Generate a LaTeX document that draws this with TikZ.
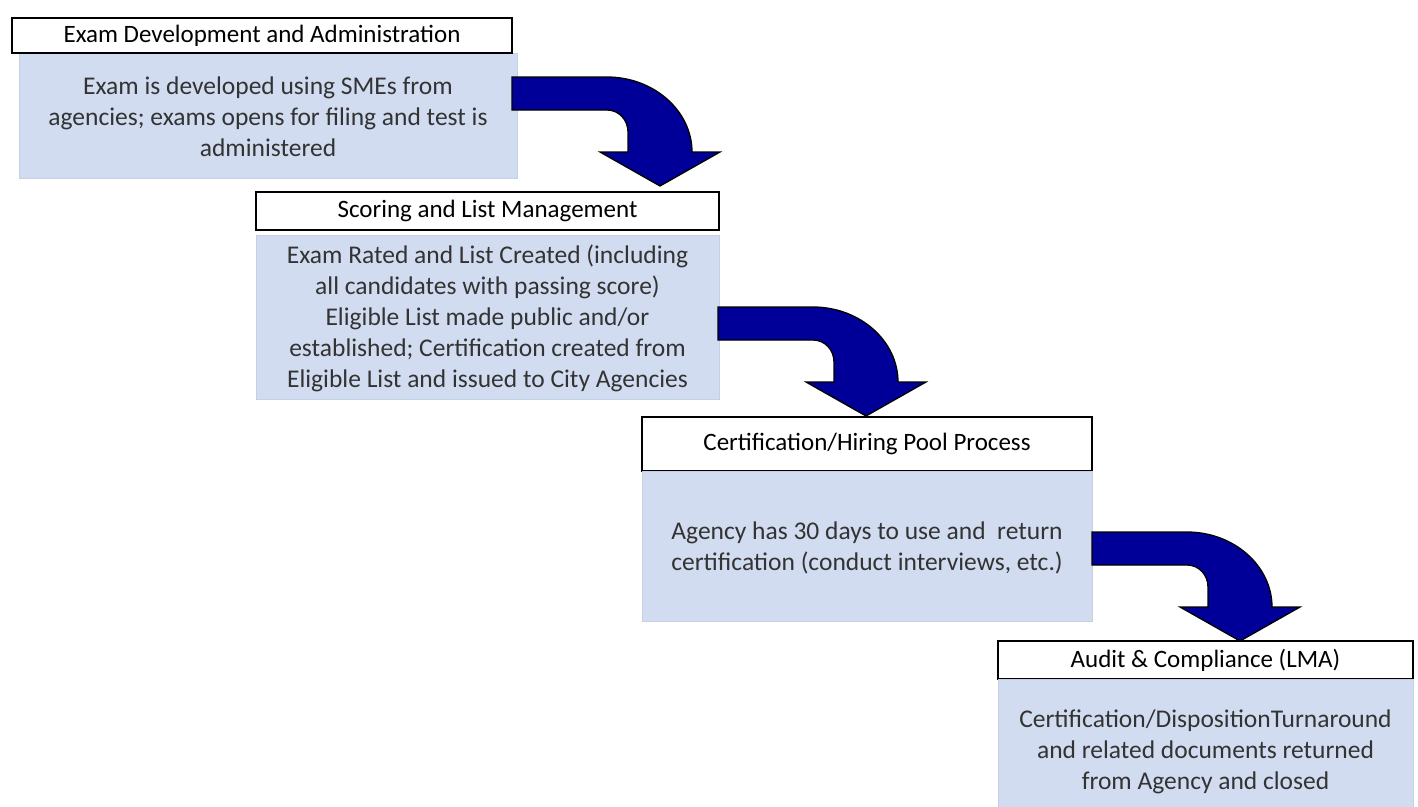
\documentclass[tikz,border=0pt]{standalone}
\usepackage{fontspec}
\setmainfont{Carlito}
\definecolor{bodyblue}{RGB}{209,220,240}
\definecolor{bodyedge}{RGB}{196,208,230}
\definecolor{navy}{RGB}{0,0,153}
\tikzset{
  titlebox/.style={draw=black, line width=1.4pt, fill=white, inner sep=0pt, font=\fontsize{25}{29}\selectfont},
  bodybox/.style={draw=bodyedge, line width=0.8pt, fill=bodyblue, inner sep=0pt},
  bodytext/.style={align=center, inner sep=0pt, text=black!80, font=\fontsize{25.5}{31}\selectfont},
  bentarrow/.style={draw=black, line width=1.3pt, fill=navy, line join=miter},
}
\newcommand\mybentarrow[1]{%
  \begin{scope}[shift={(#1)}]
    \path[bentarrow] (0,0) -- (95,0) .. controls (142,0) and (180,34) .. (180,75)
      -- (208,75) -- (148,109) -- (88,75) -- (116,75) -- (116,55)
      .. controls (116,43) and (107,33) .. (95,33) -- (0,33) -- cycle;
  \end{scope}}
\begin{document}
\begin{tikzpicture}[x=1pt,y=-1pt]
\useasboundingbox (0,0) rectangle (1418,806);
% step 1
\node[bodybox, minimum width=498pt, minimum height=125pt] (b1) at (268,115.5) {};
\node[titlebox, minimum width=500pt, minimum height=35pt] (t1) at (262,35.5) {Exam Development and Administration};
\node[bodytext] (b1t) at (268,117) {Exam is developed using SMEs from\\agencies; exams opens for filing and test is\\administered};
% step 2
\node[titlebox, minimum width=463pt, minimum height=38pt] (t2) at (487.5,211) {Scoring and List Management};
\node[bodybox, minimum width=463pt, minimum height=164pt] (b2) at (487.5,317) {};
\node[bodytext] (b2t) at (487.5,318.5) {Exam Rated and List Created (including\\all candidates with passing score)\\Eligible List made public and/or\\established; Certification created from\\Eligible List and issued to City Agencies};
% step 3
\node[titlebox, minimum width=450pt, minimum height=54pt] (t3) at (867,444) {Certification/Hiring Pool Process};
\node[bodybox, minimum width=450pt, minimum height=150pt] (b3) at (867,546) {};
\node[bodytext] (b3t) at (867,547.5) {Agency has 30 days to use and\ \ return\\certification (conduct interviews, etc.)};
% step 4
\node[titlebox, minimum width=415pt, minimum height=38pt] (t4) at (1205.5,660) {Audit \& Compliance (LMA)};
\node[bodybox, minimum width=415pt, minimum height=128pt] (b4) at (1205.5,743) {};
\node[bodytext] (b4t) at (1205.5,752) {Certification/DispositionTurnaround\\and related documents returned\\from Agency and closed};
% arrows
\coordinate (a1) at (512,77);
\coordinate (a2) at (718,307);
\coordinate (a3) at (1092,532);
\mybentarrow{a1}
\mybentarrow{a2}
\mybentarrow{a3}
\end{tikzpicture}
\end{document}
